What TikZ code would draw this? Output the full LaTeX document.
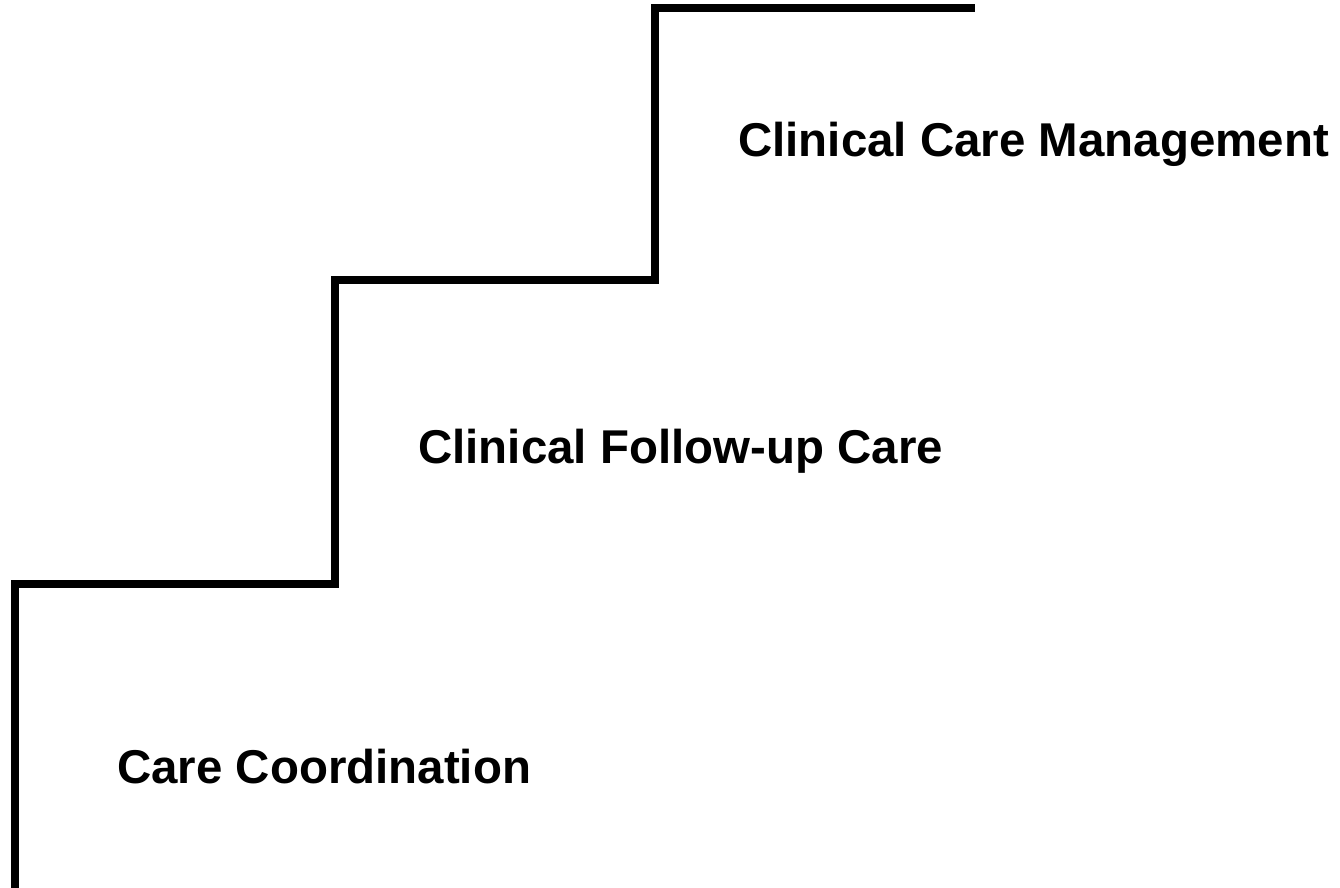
\documentclass[tikz,border=0pt]{standalone}
\usepackage{fontspec}
\setmainfont{Liberation Sans}
\usepackage{tikz}

\begin{document}
\begin{tikzpicture}[x=0.02cm,y=-0.02cm,
    stairline/.style={line width=0.16cm,line join=miter,line cap=butt},
    steplabel/.style={anchor=base west,inner sep=0pt,font=\fontsize{27}{32}\selectfont\bfseries}]
  \useasboundingbox (0,0) rectangle (1340,887);
  \draw[stairline] (15,890)--(15,584)--(335,584)--(335,280)--(655,280)--(655,8)--(975,8);
  \node[steplabel] (coord)    at (117,783) {Care Coordination};
  \node[steplabel] (followup) at (418,463) {Clinical Follow-up Care};
  \node[steplabel] (manage)   at (738,156) {Clinical Care Management};
\end{tikzpicture}
\end{document}
